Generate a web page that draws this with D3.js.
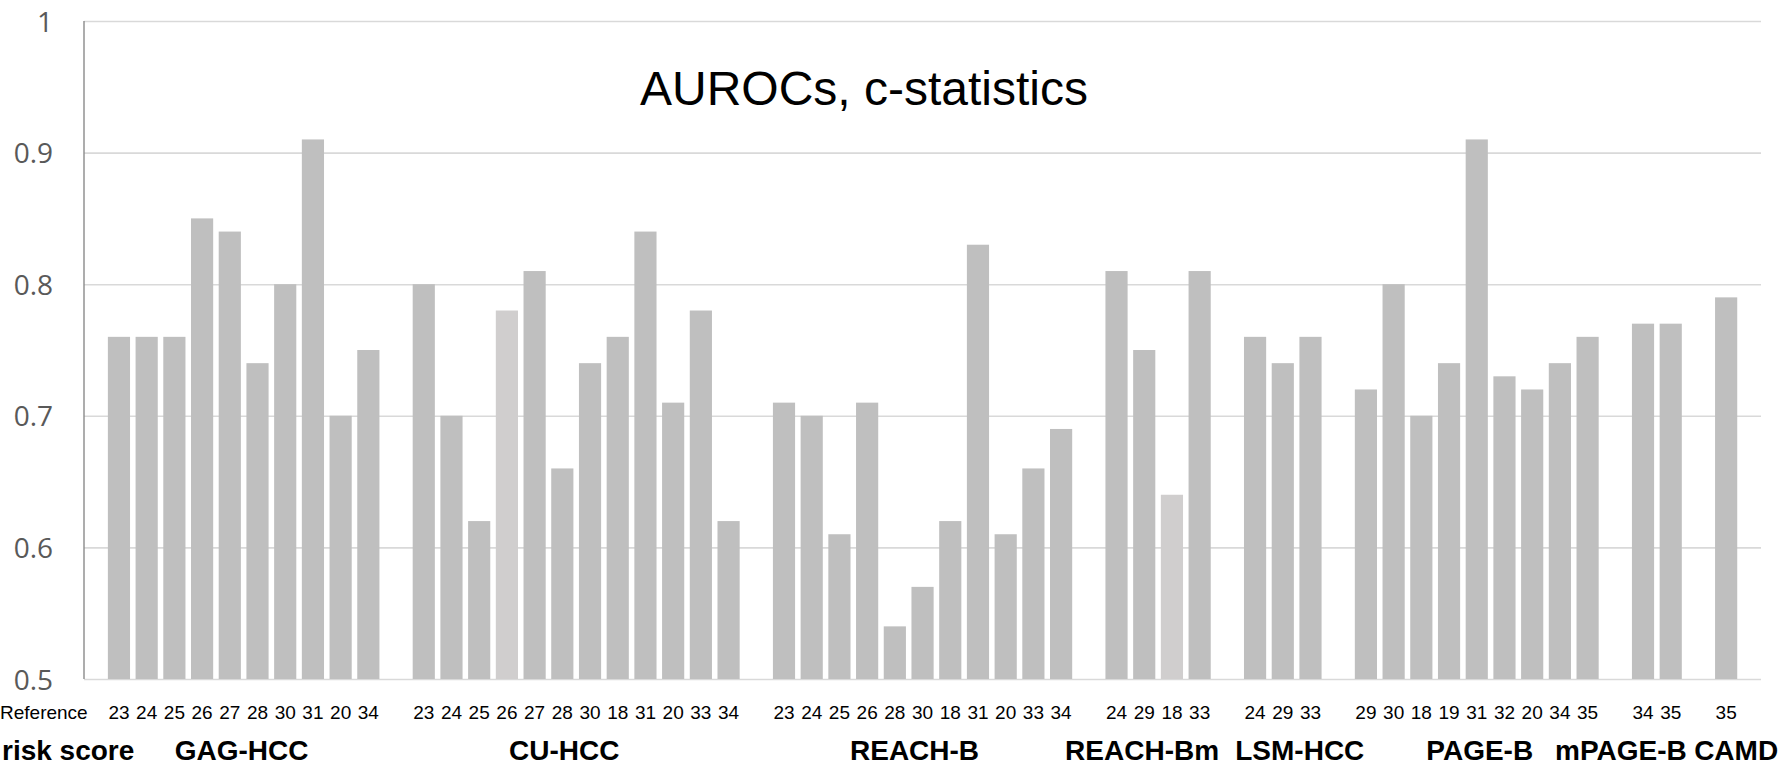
<!DOCTYPE html>
<html>
<head>
<meta charset="utf-8">
<title>AUROCs, c-statistics</title>
<script src="https://cdn.jsdelivr.net/npm/d3@7"></script>
<style>
  html, body { margin: 0; padding: 0; background: #ffffff; overflow: hidden; }
  #chart_err { color: #c00000; font-family: "Liberation Sans", Arial, sans-serif; }
</style>
</head>
<body>
<div id="chart"></div>
<div id="chart_err"></div>
<script>
// Risk scores, in the order they appear along the x axis
var groupNames = ["GAG-HCC", "CU-HCC", "REACH-B", "REACH-Bm", "LSM-HCC", "PAGE-B", "mPAGE-B", "CAMD"];

// Reference number under each bar (one list per risk score)
var refNumbers = [
  ["23", "24", "25", "26", "27", "28", "30", "31", "20", "34"],
  ["23", "24", "25", "26", "27", "28", "30", "18", "31", "20", "33", "34"],
  ["23", "24", "25", "26", "28", "30", "18", "31", "20", "33", "34"],
  ["24", "29", "18", "33"],
  ["24", "29", "33"],
  ["29", "30", "18", "19", "31", "32", "20", "34", "35"],
  ["34", "35"],
  ["35"]
];

// AUROC / c-statistic of each bar, same shape as refNumbers
var aucValues = [
  [0.76, 0.76, 0.76, 0.85, 0.84, 0.74, 0.80, 0.91, 0.70, 0.75],
  [0.80, 0.70, 0.62, 0.78, 0.81, 0.66, 0.74, 0.76, 0.84, 0.71, 0.78, 0.62],
  [0.71, 0.70, 0.61, 0.71, 0.54, 0.57, 0.62, 0.83, 0.61, 0.66, 0.69],
  [0.81, 0.75, 0.64, 0.81],
  [0.76, 0.74, 0.76],
  [0.72, 0.80, 0.70, 0.74, 0.91, 0.73, 0.72, 0.74, 0.76],
  [0.77, 0.77],
  [0.79]
];

// Bars drawn in the lighter grey ("group:bar")
var lightBars = ["1:3", "3:2"];

// Value axis
var yTicks = [0.5, 0.6, 0.7, 0.8, 0.9, 1];
var yTickLabels = ["0.5", "0.6", "0.7", "0.8", "0.9", "1"];


var aurocs = (function (d3) {
  "use strict";

  var loc_width = 1787,
      loc_height = 766,
      loc_divErr = "chart_err",
      loc_axisX = 84,          // left edge of the plot (value axis line)
      loc_gridRight = 1761,    // gridlines stop here
      loc_bandLeft = 105.1,
      loc_bandRight = 1740,
      loc_yTop = 21,
      loc_yBottom = 679,
      loc_groupY = 760,
      // small shifts of the group names, they are not exactly centred
      loc_groupShift = [-2, -12, -8, -16, 17, 3, -36, 10],
      loc_barColor = "#bfbfbf",
      loc_lightColor = "#d0cece";

  // Private methods
  var private_methods = {
    errMsg: function (sMsg, ex) {
      var sHtml = "Error in [" + sMsg + "]<br>" + ex.message;
      d3.select("#" + loc_divErr).html(sHtml);
    },

    /**
     * buildSlots - one slot per bar, plus an empty slot between two groups
     * @returns {Array}
     */
    buildSlots: function () {
      var lSlots = [];

      groupNames.forEach(function (sGroup, g) {
        aucValues[g].forEach(function (fVal, i) {
          lSlots.push({
            key: "g" + g + "-" + i,
            group: g,
            ref: refNumbers[g][i],
            value: fVal,
            light: lightBars.indexOf(g + ":" + i) >= 0
          });
        });
        if (g < groupNames.length - 1) {
          lSlots.push({ key: "gap" + g, group: g, ref: "", value: null, light: false });
        }
      });
      return lSlots;
    }
  };

  // Public methods
  return {

    /**
     *  draw
     *      Draw the whole chart into [sDiv]
     *
     */
    draw: function (sDiv) {
      var svg = null,
          lSlots = [],
          lBars = [],
          x = null,
          y = null,
          gY = null,
          gX = null;

      try {
        lSlots = private_methods.buildSlots();
        lBars = lSlots.filter(function (d) { return d.value !== null; });

        svg = d3.select(sDiv)
                .append("svg")
                .attr("width", loc_width)
                .attr("height", loc_height)
                .style("display", "block");

        x = d3.scaleBand()
              .domain(lSlots.map(function (d) { return d.key; }))
              .range([loc_bandLeft, loc_bandRight])
              .paddingInner(0.2)
              .paddingOuter(0.1);

        y = d3.scaleLinear()
              .domain([0.5, 1])
              .range([loc_yBottom, loc_yTop]);

        // Value axis with the gridlines
        gY = svg.append("g")
                .attr("transform", "translate(" + loc_axisX + ",0)")
                .call(d3.axisLeft(y)
                        .tickValues(yTicks)
                        .tickFormat(function (d, i) { return yTickLabels[i]; })
                        .tickSize(-(loc_gridRight - loc_axisX))
                        .tickPadding(31));
        gY.select(".domain").remove();
        gY.selectAll(".tick line")
          .attr("stroke", "#d9d9d9")
          .attr("stroke-width", 1.6);
        gY.selectAll(".tick text")
          .attr("fill", "#595959")
          .attr("font-family", "'Open Sans', 'Noto Sans', sans-serif")
          .attr("font-size", 28)
          .attr("dy", "0.36em");

        // The vertical axis line
        svg.append("line")
           .attr("x1", loc_axisX)
           .attr("x2", loc_axisX)
           .attr("y1", y(1))
           .attr("y2", y(0.5))
           .attr("stroke", "#8a8a8a")
           .attr("stroke-width", 1.4);

        // Bars
        svg.append("g")
           .selectAll("rect")
           .data(lBars)
           .enter()
           .append("rect")
           .attr("x", function (d) { return x(d.key); })
           .attr("width", x.bandwidth())
           .attr("y", function (d) { return y(d.value); })
           .attr("height", function (d) { return y(0.5) - y(d.value); })
           .attr("fill", function (d) { return d.light ? loc_lightColor : loc_barColor; });

        // Reference numbers under the bars
        gX = svg.append("g")
                .attr("transform", "translate(0," + loc_yBottom + ")")
                .call(d3.axisBottom(x)
                        .tickValues(lBars.map(function (d) { return d.key; }))
                        .tickFormat(function (k) {
                          return lSlots.filter(function (d) { return d.key === k; })[0].ref;
                        })
                        .tickSize(0)
                        .tickPadding(0));
        gX.select(".domain").remove();
        gX.selectAll(".tick text")
          .attr("y", 40)
          .attr("dy", null)
          .attr("fill", "#000000")
          .attr("font-family", "'Liberation Sans', Arial, sans-serif")
          .attr("font-size", 19);

        svg.append("text")
           .attr("x", 0)
           .attr("y", 719)
           .attr("font-family", "'Liberation Sans', Arial, sans-serif")
           .attr("font-size", 19)
           .text("Reference");

        // Names of the risk scores
        svg.append("text")
           .attr("x", 2)
           .attr("y", loc_groupY)
           .attr("font-family", "'Liberation Sans', Arial, sans-serif")
           .attr("font-weight", "bold")
           .attr("font-size", 28)
           .text("risk score");

        svg.append("g")
           .selectAll("text")
           .data(groupNames)
           .enter()
           .append("text")
           .attr("x", function (sName, g) {
             var lIn = lBars.filter(function (d) { return d.group === g; }),
                 fFirst = x(lIn[0].key),
                 fLast = x(lIn[lIn.length - 1].key) + x.bandwidth();
             return (fFirst + fLast) / 2 + loc_groupShift[g];
           })
           .attr("y", loc_groupY)
           .attr("text-anchor", "middle")
           .attr("font-family", "'Liberation Sans', Arial, sans-serif")
           .attr("font-weight", "bold")
           .attr("font-size", 28)
           .text(function (d) { return d; });

        // Title
        svg.append("text")
           .attr("x", 864)
           .attr("y", 105)
           .attr("text-anchor", "middle")
           .attr("font-family", "'Liberation Sans', Arial, sans-serif")
           .attr("font-size", 48)
           .attr("fill", "#000000")
           .text("AUROCs, c-statistics");

      } catch (ex) {
        private_methods.errMsg("draw", ex);
      }
    }
  };
}(d3));

aurocs.draw("#chart");
</script>
</body>
</html>
